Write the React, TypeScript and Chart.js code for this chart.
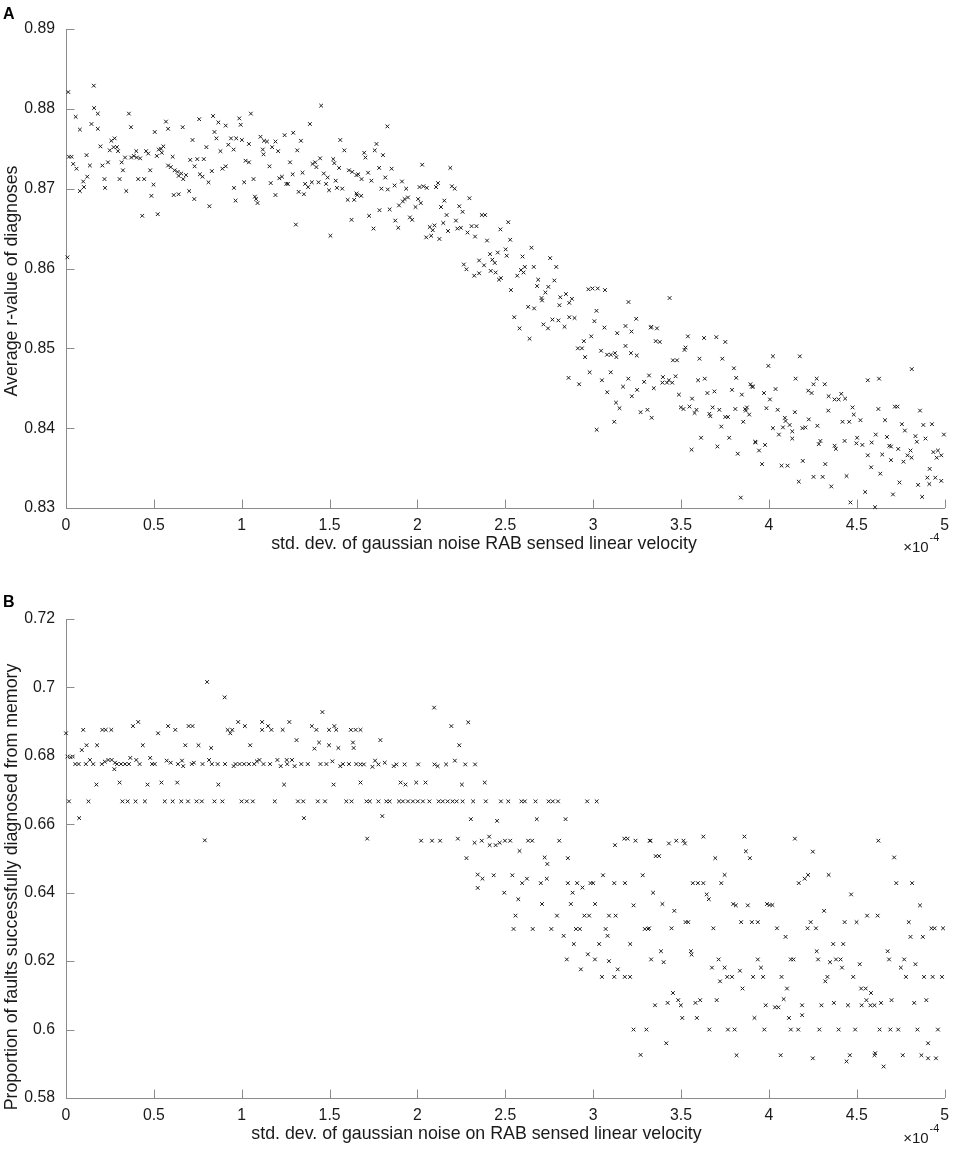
import React, { useEffect, useRef } from 'react';
import { Chart, registerables } from 'chart.js';

Chart.register(...registerables);

const FONT = '"Liberation Sans", Arial, Helvetica, sans-serif';
const AXIS_COLOR = '#8c8c8c';
const TEXT_COLOR = '#1a1a1a';

// x values in units of 1e-4 (axis shows x10^-4)
const xTicks = [0, 0.5, 1, 1.5, 2, 2.5, 3, 3.5, 4, 4.5, 5];
const yTicksA = [0.83, 0.84, 0.85, 0.86, 0.87, 0.88, 0.89];
const yTicksB = [0.58, 0.6, 0.62, 0.64, 0.66, 0.68, 0.7, 0.72];

const xTitleA = 'std. dev. of gaussian noise RAB sensed linear velocity';
const yTitleA = 'Average r-value of diagnoses';
const xTitleB = 'std. dev. of gaussian noise on RAB sensed linear velocity';
const yTitleB = 'Proportion of faults successfully diagnosed from memory';

// Panel A: [x (1e-4), average r-value]
const pointsA: [number, number][] = [
  [0.013, 0.8821], [0.008, 0.8614], [0.017, 0.874], [0.032, 0.874], [0.041, 0.8731], [0.06, 0.8725], [0.055, 0.879], [0.079, 0.8774],
  [0.079, 0.8697], [0.098, 0.8709], [0.102, 0.8702], [0.117, 0.8742], [0.121, 0.8715], [0.136, 0.8729], [0.158, 0.8829], [0.16, 0.8801],
  [0.181, 0.8794], [0.145, 0.8781], [0.181, 0.8775], [0.196, 0.8753], [0.207, 0.8729], [0.219, 0.8712], [0.222, 0.8701], [0.239, 0.8733],
  [0.249, 0.8748], [0.258, 0.876], [0.277, 0.8763], [0.271, 0.8752], [0.29, 0.8752], [0.296, 0.8747], [0.305, 0.8712], [0.317, 0.8733],
  [0.324, 0.8723], [0.336, 0.8739], [0.343, 0.8697], [0.358, 0.8794], [0.37, 0.8777], [0.371, 0.8739], [0.386, 0.8741], [0.4, 0.8747],
  [0.403, 0.8739], [0.422, 0.8738], [0.411, 0.8712], [0.434, 0.8666], [0.445, 0.8712], [0.456, 0.8747], [0.468, 0.8744], [0.479, 0.8723],
  [0.486, 0.8691], [0.498, 0.8705], [0.505, 0.8771], [0.517, 0.8741], [0.522, 0.8668], [0.528, 0.8749], [0.541, 0.875], [0.554, 0.8753],
  [0.545, 0.8745], [0.569, 0.8784], [0.581, 0.8775], [0.581, 0.8729], [0.596, 0.8727], [0.607, 0.874], [0.613, 0.8692], [0.618, 0.8723],
  [0.635, 0.8721], [0.641, 0.8693], [0.641, 0.8716], [0.656, 0.8719], [0.667, 0.8712], [0.664, 0.8777], [0.683, 0.8717], [0.701, 0.8697],
  [0.707, 0.8736], [0.72, 0.8761], [0.73, 0.8687], [0.732, 0.8728], [0.747, 0.8737], [0.758, 0.8787], [0.762, 0.8718], [0.777, 0.8715],
  [0.784, 0.8737], [0.799, 0.8752], [0.811, 0.8708], [0.816, 0.8678], [0.83, 0.8722], [0.837, 0.8791], [0.845, 0.8771], [0.856, 0.8763],
  [0.867, 0.8783], [0.879, 0.8747], [0.89, 0.8725], [0.909, 0.8779], [0.909, 0.8728], [0.924, 0.8755], [0.939, 0.8763], [0.954, 0.8749],
  [0.956, 0.8701], [0.965, 0.8685], [0.969, 0.8763], [0.986, 0.8788], [0.994, 0.878], [1.001, 0.8761], [1.014, 0.8708], [1.022, 0.8735],
  [1.041, 0.8733], [1.041, 0.8756], [1.052, 0.8794], [1.067, 0.8712], [1.075, 0.869], [1.082, 0.8687], [1.09, 0.8682], [1.107, 0.8765],
  [1.12, 0.8749], [1.124, 0.8743], [1.127, 0.876], [1.144, 0.8759], [1.158, 0.8728], [1.165, 0.8707], [1.173, 0.8752], [1.192, 0.8759],
  [1.192, 0.8692], [1.207, 0.8747], [1.214, 0.8713], [1.229, 0.8715], [1.244, 0.8767], [1.254, 0.8706], [1.263, 0.8706], [1.275, 0.8733],
  [1.29, 0.8718], [1.293, 0.877], [1.308, 0.8655], [1.316, 0.8748], [1.324, 0.8696], [1.337, 0.876], [1.346, 0.872], [1.354, 0.8693],
  [1.361, 0.8706], [1.378, 0.8702], [1.388, 0.8781], [1.399, 0.8708], [1.403, 0.8731], [1.418, 0.8733], [1.425, 0.8727], [1.437, 0.8708],
  [1.446, 0.8738], [1.452, 0.8804], [1.467, 0.8719], [1.48, 0.8706], [1.489, 0.8714], [1.497, 0.8698], [1.505, 0.8641], [1.521, 0.8737],
  [1.527, 0.8732], [1.535, 0.871], [1.542, 0.8701], [1.554, 0.8726], [1.561, 0.8761], [1.572, 0.87], [1.584, 0.8748], [1.603, 0.8686],
  [1.61, 0.8723], [1.625, 0.8661], [1.629, 0.8721], [1.64, 0.8686], [1.653, 0.8694], [1.653, 0.8717],
  [1.829, 0.8778], [1.767, 0.8756], [1.757, 0.8748], [1.697, 0.8745], [1.704, 0.8739], [1.804, 0.8742], [1.719, 0.872], [1.663, 0.8718],
  [1.682, 0.8712], [1.738, 0.871], [1.782, 0.8726], [1.853, 0.8725], [1.817, 0.8714], [1.657, 0.8692], [1.68, 0.8691], [1.795, 0.87],
  [1.831, 0.8699], [1.87, 0.8704], [1.912, 0.8709], [1.936, 0.87], [2.027, 0.873], [2.012, 0.8702], [2.034, 0.8703], [2.053, 0.8701],
  [2.106, 0.8702], [2.117, 0.8707], [2.187, 0.8726], [2.196, 0.8703], [2.212, 0.87], [2.296, 0.8688], [1.895, 0.8679], [1.917, 0.8684],
  [1.927, 0.8687], [1.946, 0.8689], [2.004, 0.8687], [1.989, 0.8677], [2.019, 0.8682], [2.153, 0.8685], [2.134, 0.8677], [2.238, 0.8678],
  [2.257, 0.8671], [2.166, 0.8667], [1.784, 0.8673], [1.842, 0.8674], [1.725, 0.8666], [1.75, 0.865], [1.874, 0.866], [1.891, 0.8651],
  [1.957, 0.8664], [1.97, 0.8661], [2.07, 0.8652], [2.097, 0.8654], [2.087, 0.8648], [2.05, 0.8639], [2.078, 0.8641], [2.125, 0.8637],
  [2.147, 0.8657], [2.174, 0.8647], [2.219, 0.866], [2.227, 0.865], [2.247, 0.8651], [2.285, 0.8645], [2.308, 0.8653], [2.336, 0.8653],
  [2.328, 0.864], [2.366, 0.8667], [2.385, 0.8667], [2.396, 0.8635], [2.472, 0.8649], [2.517, 0.8658], [2.528, 0.8636], [2.413, 0.8618],
  [2.457, 0.862], [2.502, 0.8624], [2.508, 0.8616], [2.649, 0.8626], [2.755, 0.8613], [2.598, 0.8615], [2.264, 0.8605], [2.279, 0.8599],
  [2.351, 0.861], [2.379, 0.8604], [2.426, 0.8611], [2.44, 0.8607], [2.417, 0.8597], [2.445, 0.8595], [2.475, 0.8588], [2.464, 0.8586],
  [2.323, 0.8591], [2.351, 0.8594], [2.568, 0.8591], [2.589, 0.8598], [2.604, 0.8595], [2.611, 0.8602], [2.662, 0.8602], [2.79, 0.8602],
  [2.532, 0.8573], [2.687, 0.8586], [2.681, 0.8578], [2.728, 0.857], [2.745, 0.8577], [2.779, 0.8585], [2.706, 0.8563], [2.709, 0.856],
  [2.813, 0.8564], [2.845, 0.8568], [2.879, 0.8562], [2.864, 0.8557], [2.808, 0.8554], [2.973, 0.8574], [2.996, 0.8575], [3.026, 0.8575],
  [3.067, 0.8573], [3.201, 0.8558], [2.63, 0.8552], [2.664, 0.855], [2.551, 0.8539], [2.581, 0.8525], [2.638, 0.8512], [2.717, 0.853],
  [2.743, 0.8525], [2.768, 0.8536], [2.802, 0.8535], [2.837, 0.8527], [2.864, 0.8539], [2.894, 0.8538], [3.019, 0.8547], [3.007, 0.8534],
  [3.064, 0.8526], [3.137, 0.8519], [3.184, 0.8528], [3.218, 0.8521], [3.245, 0.8537], [3.328, 0.8526], [2.947, 0.8509], [2.989, 0.8515],
  [2.913, 0.85], [2.936, 0.85], [2.954, 0.8489], [3.045, 0.8497], [3.079, 0.8492], [3.101, 0.8492], [3.124, 0.8494], [3.132, 0.8489],
  [3.184, 0.8503], [3.215, 0.8494], [3.248, 0.8491],
  [2.86, 0.8463], [2.92, 0.8455], [2.98, 0.847], [3.02, 0.8398], [3.05, 0.846], [3.08, 0.8445], [3.1, 0.847], [3.12, 0.8408],
  [3.13, 0.8432], [3.15, 0.8425], [3.17, 0.8452], [3.2, 0.8462], [3.22, 0.844], [3.25, 0.8448], [3.27, 0.842], [3.29, 0.8458],
  [3.435, 0.8563], [3.331, 0.8527], [3.363, 0.8525], [3.356, 0.8509], [3.379, 0.8508], [3.454, 0.8485], [3.477, 0.8485], [3.318, 0.8466],
  [3.397, 0.8464], [3.394, 0.8457], [3.42, 0.8457], [3.431, 0.846], [3.45, 0.8457], [3.469, 0.8465], [3.345, 0.845], [3.309, 0.8423],
  [3.333, 0.8413], [3.539, 0.8515], [3.526, 0.8501], [3.52, 0.8498], [3.631, 0.8513], [3.701, 0.8514], [3.752, 0.8508], [3.605, 0.8487],
  [3.735, 0.8487], [3.801, 0.8475], [3.814, 0.8463], [3.597, 0.846], [3.635, 0.8462], [3.488, 0.8442], [3.563, 0.8437], [3.65, 0.8444],
  [3.69, 0.8446], [3.499, 0.8426], [3.514, 0.8424], [3.548, 0.8427], [3.588, 0.8423], [3.577, 0.8419], [3.661, 0.8418], [3.667, 0.8415],
  [3.68, 0.8426], [3.718, 0.8423], [3.752, 0.8414], [3.767, 0.8414], [3.79, 0.8448], [3.809, 0.8424], [3.846, 0.8442], [3.865, 0.8424],
  [3.875, 0.8426], [3.869, 0.8422], [3.888, 0.8417], [3.854, 0.8408], [3.729, 0.8402], [3.614, 0.8388], [3.774, 0.8388], [3.707, 0.8377],
  [3.56, 0.8373], [3.823, 0.8368], [3.903, 0.8452], [3.91, 0.8452], [3.895, 0.8455], [3.922, 0.8383], [3.925, 0.8382], [3.944, 0.8372],
  [3.972, 0.8444], [3.986, 0.8425], [4.006, 0.8436], [3.978, 0.8379], [3.961, 0.8355], [3.84, 0.8313], [3.997, 0.8478], [4.023, 0.849],
  [4.038, 0.8449], [4.05, 0.8423], [4.023, 0.84], [4.057, 0.8392], [4.08, 0.8401], [4.095, 0.8409], [4.091, 0.8413], [4.118, 0.8404],
  [4.133, 0.8396], [4.133, 0.8387], [4.148, 0.842], [4.152, 0.8462], [4.176, 0.849], [4.191, 0.84], [4.208, 0.8401], [4.227, 0.8411],
  [4.224, 0.8447], [4.243, 0.8444], [4.254, 0.8455], [4.272, 0.8462], [4.318, 0.8455], [4.276, 0.8403], [4.284, 0.838], [4.293, 0.8384],
  [4.338, 0.8422], [4.34, 0.844], [4.374, 0.8436], [4.397, 0.8436], [4.412, 0.8443], [4.434, 0.8437], [4.476, 0.8426], [4.483, 0.8417],
  [4.419, 0.8408], [4.457, 0.8408], [4.521, 0.841], [4.431, 0.8384], [4.374, 0.8378], [4.381, 0.8374], [4.502, 0.8388], [4.498, 0.8381],
  [4.532, 0.8379], [4.563, 0.846], [4.627, 0.8462], [4.623, 0.8424], [4.661, 0.841], [4.717, 0.8427], [4.732, 0.8427], [4.757, 0.8405],
  [4.774, 0.8397], [4.672, 0.8389], [4.685, 0.8378], [4.695, 0.8377], [4.736, 0.8374], [4.695, 0.836], [4.585, 0.8382], [4.608, 0.8392],
  [4.563, 0.8366], [4.582, 0.8351], [4.634, 0.8343], [4.645, 0.8367], [4.806, 0.8372], [4.812, 0.8363], [4.789, 0.8366], [4.766, 0.8358],
  [4.834, 0.839], [4.842, 0.8383], [4.891, 0.8387], [4.813, 0.8474], [4.86, 0.8422], [4.879, 0.8404], [4.928, 0.8405], [4.996, 0.8392],
  [4.936, 0.837], [4.962, 0.8372], [4.955, 0.8363], [4.981, 0.8366], [4.915, 0.8349], [4.902, 0.8338], [4.947, 0.8338], [4.981, 0.8334],
  [4.913, 0.833], [4.849, 0.8329], [4.872, 0.8314], [4.743, 0.8332], [4.706, 0.8317], [4.548, 0.832], [4.464, 0.8307], [4.604, 0.8301],
  [4.321, 0.8355], [4.306, 0.8339], [4.254, 0.8339], [4.355, 0.8327], [4.442, 0.834], [4.17, 0.8333], [4.193, 0.8359], [4.072, 0.8353],
  [4.106, 0.8353],
];

// Panel B: [x (1e-4), proportion diagnosed from memory]
const pointsB: [number, number][] = [
  [0.0, 0.6866], [0.008, 0.6798], [0.026, 0.6796], [0.038, 0.6798], [0.017, 0.6667], [0.053, 0.6776], [0.072, 0.6776], [0.075, 0.6618],
  [0.09, 0.6817], [0.098, 0.6876], [0.117, 0.6831], [0.113, 0.6776], [0.136, 0.6788], [0.128, 0.6667], [0.155, 0.6776], [0.173, 0.6716],
  [0.177, 0.6831], [0.207, 0.6876], [0.226, 0.6876], [0.258, 0.6876], [0.204, 0.6776], [0.221, 0.6783], [0.241, 0.6788], [0.26, 0.6788],
  [0.275, 0.6761], [0.279, 0.678], [0.29, 0.6776], [0.305, 0.6722], [0.321, 0.6667], [0.313, 0.6776], [0.336, 0.6776], [0.351, 0.6667],
  [0.358, 0.6776], [0.366, 0.6794], [0.381, 0.6887], [0.396, 0.6667], [0.411, 0.6899], [0.4, 0.6788], [0.419, 0.6776], [0.437, 0.6831],
  [0.449, 0.6667], [0.464, 0.6716], [0.479, 0.6794], [0.49, 0.6776], [0.505, 0.6776], [0.524, 0.6866], [0.543, 0.6722], [0.562, 0.6667],
  [0.573, 0.6786], [0.581, 0.6887], [0.596, 0.678], [0.607, 0.6667], [0.622, 0.6876], [0.633, 0.6722], [0.637, 0.6776], [0.656, 0.6667],
  [0.66, 0.6786], [0.667, 0.677], [0.679, 0.6831], [0.698, 0.6887], [0.694, 0.6667], [0.716, 0.6776], [0.72, 0.6887], [0.728, 0.678],
  [0.743, 0.6667], [0.754, 0.6831], [0.773, 0.6667], [0.777, 0.6776], [0.803, 0.7016], [0.814, 0.6788], [0.826, 0.6823], [0.83, 0.6776],
  [0.845, 0.6667], [0.863, 0.6776], [0.867, 0.6716], [0.89, 0.6667], [0.905, 0.6776], [0.903, 0.6971], [0.92, 0.6876], [0.935, 0.6866],
  [0.946, 0.6876], [0.954, 0.677], [0.965, 0.6776], [0.98, 0.6899], [0.988, 0.6776], [0.999, 0.6667], [1.014, 0.6776], [1.018, 0.6887],
  [1.029, 0.6667], [1.041, 0.6776], [1.048, 0.6831], [1.063, 0.6667], [1.071, 0.6776], [1.086, 0.6784], [1.101, 0.6788], [1.116, 0.6899],
  [1.116, 0.6876], [1.124, 0.6776], [1.15, 0.6887], [1.161, 0.6776], [1.169, 0.6876], [1.188, 0.6667], [1.203, 0.6788], [1.222, 0.677],
  [1.233, 0.6876], [1.241, 0.6716], [1.256, 0.6788], [1.259, 0.6776], [1.271, 0.6899], [1.286, 0.6788], [1.301, 0.677], [1.312, 0.6846],
  [1.32, 0.6667], [1.339, 0.6776], [1.35, 0.6667], [1.354, 0.6618], [1.376, 0.6776], [1.399, 0.6887], [1.414, 0.6821], [1.425, 0.6876],
  [1.433, 0.6667], [1.44, 0.6839], [1.448, 0.6776], [1.459, 0.6928], [1.474, 0.6667], [1.482, 0.6776], [1.497, 0.6831], [1.497, 0.6876],
  [1.516, 0.6784], [1.523, 0.6716], [1.527, 0.6887], [1.538, 0.6876], [1.55, 0.6823], [1.561, 0.677], [1.576, 0.6776], [1.595, 0.6667],
  [1.61, 0.6776], [1.621, 0.6876], [1.625, 0.6667], [1.633, 0.6839], [1.637, 0.6823], [1.652, 0.6776], [1.648, 0.6876], [0.79, 0.6553],
  [2.095, 0.6941], [2.193, 0.6887], [2.289, 0.6898], [2.238, 0.6831], [1.789, 0.6846], [1.676, 0.6876], [1.676, 0.6775], [1.695, 0.6775],
  [1.744, 0.6768], [1.759, 0.6786], [1.778, 0.6775], [1.814, 0.678], [1.865, 0.677], [1.88, 0.6775], [1.927, 0.6775], [2.004, 0.6775],
  [2.097, 0.6775], [2.115, 0.677], [2.163, 0.6775], [2.213, 0.6786], [2.272, 0.6775], [2.328, 0.6775], [1.676, 0.6722], [1.904, 0.6722],
  [1.932, 0.6716], [1.993, 0.6722], [2.046, 0.6722], [2.253, 0.6716], [2.383, 0.6722],
  [1.71, 0.6667], [1.729, 0.6667], [1.778, 0.6667], [1.823, 0.6667], [1.842, 0.6667], [1.895, 0.6667], [1.917, 0.6667], [1.946, 0.6667],
  [1.974, 0.6667], [2.002, 0.6667], [2.031, 0.6667], [2.068, 0.6667], [2.121, 0.6667], [2.144, 0.6667], [2.172, 0.6667], [2.2, 0.6667],
  [2.223, 0.6667], [2.257, 0.6667], [2.317, 0.6667], [2.389, 0.6667], [2.475, 0.6667], [2.517, 0.6667], [2.592, 0.6667], [2.611, 0.6667],
  [2.672, 0.6667], [2.747, 0.6667], [2.77, 0.6667], [2.8, 0.6667], [2.966, 0.6667], [3.02, 0.6667],
  [1.8, 0.6624], [2.304, 0.6615], [2.453, 0.661], [2.679, 0.6615], [2.843, 0.6615], [1.714, 0.6558], [2.021, 0.6552], [2.083, 0.6552],
  [2.129, 0.6552], [2.23, 0.6558], [2.325, 0.6546], [2.366, 0.6552], [2.408, 0.6564], [2.411, 0.6539], [2.445, 0.6539], [2.468, 0.6546],
  [2.498, 0.6552], [2.528, 0.6552], [2.63, 0.6552], [2.653, 0.6552], [2.807, 0.6552], [2.581, 0.6522], [3.124, 0.6539], [3.177, 0.6558],
  [3.196, 0.6558], [3.241, 0.6552], [3.322, 0.6552], [2.279, 0.6501], [2.724, 0.6503], [2.739, 0.6484], [2.856, 0.6501], [2.343, 0.6453],
  [2.37, 0.6441], [2.434, 0.6451], [2.54, 0.6451], [2.596, 0.6428], [2.623, 0.6441], [2.702, 0.6428], [2.736, 0.6441], [2.856, 0.6428],
  [2.909, 0.6428], [2.939, 0.6415], [2.985, 0.6428], [3.0, 0.6428], [3.056, 0.6451], [3.12, 0.6428], [3.181, 0.6428], [3.282, 0.6451],
  [2.343, 0.6414], [2.494, 0.64], [2.883, 0.64], [2.574, 0.6381], [2.709, 0.6367], [2.873, 0.6367], [3.011, 0.6367], [3.23, 0.6363],
  [2.558, 0.6333], [2.794, 0.6333], [2.95, 0.6333], [2.977, 0.6333], [3.09, 0.6333], [3.128, 0.6333], [2.547, 0.6294], [2.656, 0.6294],
  [2.762, 0.6294], [2.902, 0.6294], [2.924, 0.6294], [3.071, 0.6294], [3.294, 0.6294], [3.312, 0.6294], [2.832, 0.6274], [3.082, 0.6274],
  [2.89, 0.625], [3.034, 0.625], [3.211, 0.625],
  [2.85, 0.6205], [2.93, 0.6176], [2.97, 0.622], [3.01, 0.6205], [3.05, 0.6154], [3.09, 0.62], [3.14, 0.6176], [3.18, 0.6154],
  [3.23, 0.6], [3.27, 0.5926], [3.21, 0.6154], [3.12, 0.6154],
  [3.326, 0.6552], [3.431, 0.6544], [3.473, 0.6552], [3.514, 0.6552], [3.522, 0.6544], [3.627, 0.6564], [3.861, 0.6564], [4.148, 0.6558],
  [4.623, 0.6552], [3.356, 0.6507], [3.375, 0.6507], [3.695, 0.6501], [3.869, 0.6521], [3.892, 0.6501], [4.25, 0.652], [4.713, 0.6503],
  [3.748, 0.6452], [3.729, 0.6428], [3.567, 0.6428], [3.596, 0.6428], [3.627, 0.6428], [3.341, 0.64], [3.646, 0.6395], [3.658, 0.6381],
  [3.394, 0.6367], [3.462, 0.6347], [3.526, 0.6314], [3.541, 0.6314], [3.318, 0.6296], [3.446, 0.6296], [3.684, 0.6296], [3.797, 0.6367],
  [3.812, 0.6363], [3.88, 0.6363], [3.989, 0.6367], [4.004, 0.6364], [4.02, 0.6364], [3.842, 0.6314], [3.903, 0.6314], [3.937, 0.6314],
  [4.046, 0.6296], [4.095, 0.6271], [4.17, 0.6428], [4.204, 0.6441], [4.223, 0.6452], [4.34, 0.6452], [4.468, 0.6395], [4.314, 0.6347],
  [4.238, 0.6314], [4.22, 0.6296], [4.268, 0.6296], [4.431, 0.6314], [4.499, 0.6314], [4.559, 0.6333], [4.619, 0.6333], [4.725, 0.6428],
  [4.815, 0.6428], [4.86, 0.6363], [4.796, 0.6314], [4.925, 0.6296], [4.943, 0.6296], [4.991, 0.6296], [4.806, 0.6271], [4.876, 0.6271],
  [3.386, 0.6229], [3.33, 0.6205], [3.401, 0.6197], [3.556, 0.6229], [3.56, 0.6219], [3.714, 0.6205], [3.676, 0.6181], [3.748, 0.6181],
  [3.835, 0.6172], [3.722, 0.6141], [3.763, 0.6154], [3.79, 0.6154], [3.91, 0.6154], [3.937, 0.6205], [3.955, 0.6181], [3.967, 0.6154],
  [4.072, 0.6154], [4.125, 0.6205], [4.14, 0.6205], [4.272, 0.6229], [4.28, 0.6205], [4.348, 0.6197], [4.382, 0.6205], [4.408, 0.6205],
  [4.416, 0.6181], [4.517, 0.6191], [4.366, 0.625], [4.423, 0.625], [4.333, 0.6154], [4.321, 0.6141], [4.48, 0.6154], [4.676, 0.6229],
  [4.684, 0.6205], [4.77, 0.6205], [4.751, 0.6181], [4.834, 0.6191], [4.78, 0.6154], [4.883, 0.6154], [4.932, 0.6154], [4.985, 0.6154],
  [3.85, 0.612], [4.103, 0.612], [4.525, 0.612], [4.551, 0.612], [4.581, 0.6107], [3.454, 0.6107], [3.352, 0.6071], [3.424, 0.6078],
  [3.484, 0.6086], [3.499, 0.6071], [3.582, 0.6078], [3.609, 0.6086], [3.703, 0.6086], [3.982, 0.6071], [4.035, 0.6065], [4.054, 0.6065],
  [4.084, 0.6089], [4.189, 0.6071], [4.189, 0.6042], [4.299, 0.6071], [4.37, 0.6078], [4.45, 0.6071], [4.528, 0.6071], [4.555, 0.6086],
  [4.578, 0.6071], [4.601, 0.6071], [4.638, 0.6078], [4.698, 0.6086], [4.827, 0.6078], [4.896, 0.6086], [3.507, 0.6034], [3.59, 0.6034],
  [3.918, 0.6034], [4.114, 0.6034],
  [3.303, 0.6], [3.661, 0.6], [3.767, 0.6], [3.805, 0.6], [3.974, 0.6], [4.125, 0.6], [4.167, 0.6], [4.287, 0.6],
  [4.397, 0.6], [4.491, 0.6], [4.63, 0.6], [4.691, 0.6], [4.736, 0.6], [4.845, 0.6], [4.962, 0.6],
  [3.416, 0.596], [4.906, 0.596], [3.816, 0.5925], [4.067, 0.5925], [4.25, 0.5916], [4.461, 0.5925], [4.442, 0.5907], [4.601, 0.5925],
  [4.605, 0.5931], [4.762, 0.5925], [4.868, 0.5925], [4.906, 0.5916], [4.951, 0.5916], [4.653, 0.5892],
];

type PanelCfg = {
  points: [number, number][];
  yTicks: number[];
  xTitle: string;
  yTitle: string;
  letter: string;
  height: number;
  padTop: number;
  xAxisHeight: number;
  letterY: number;
  xTitleX: number;
  xTitleY: number;
  yTitleY: number;
  expY: number;
};

const fmt = (v: number) => String(Number(v.toFixed(3)));

const decorPlugin = {
  id: 'decor',
  afterDraw(chart: any, _args: any, opts: any) {
    const { ctx, chartArea, scales } = chart;
    const xs = scales.x;
    const ys = scales.y;
    const TL = 8.5;
    ctx.save();
    ctx.strokeStyle = AXIS_COLOR;
    ctx.lineWidth = 1;
    ctx.beginPath();
    xs.ticks.forEach((t: any) => {
      const px = Math.round(xs.getPixelForValue(t.value)) + 0.5;
      ctx.moveTo(px, chartArea.bottom);
      ctx.lineTo(px, chartArea.bottom - TL);
    });
    ys.ticks.forEach((t: any) => {
      const py = Math.round(ys.getPixelForValue(t.value)) + 0.5;
      ctx.moveTo(chartArea.left, py);
      ctx.lineTo(chartArea.left + TL, py);
    });
    ctx.stroke();

    ctx.textBaseline = 'alphabetic';
    // panel letter
    ctx.font = `bold 16px ${FONT}`;
    ctx.textAlign = 'left';
    ctx.fillStyle = '#000';
    ctx.fillText(opts.letter, 3, opts.letterY);
    ctx.fillStyle = TEXT_COLOR;
    // x title
    ctx.font = `17.8px ${FONT}`;
    ctx.textAlign = 'center';
    ctx.fillText(opts.xTitle, opts.xTitleX, opts.xTitleY);
    // y title
    ctx.save();
    ctx.translate(16.5, opts.yTitleY);
    ctx.rotate(-Math.PI / 2);
    ctx.fillText(opts.yTitle, 0, 0);
    ctx.restore();
    // exponent
    ctx.font = `15px ${FONT}`;
    ctx.textAlign = 'right';
    ctx.fillText('\u00d710', chartArea.right - 16, opts.expY);
    ctx.font = `11px ${FONT}`;
    ctx.textAlign = 'left';
    ctx.fillText('-4', chartArea.right - 15, opts.expY - 11);
    ctx.restore();
  },
};

function Panel({ cfg }: { cfg: PanelCfg }) {
  const ref = useRef<HTMLCanvasElement | null>(null);
  useEffect(() => {
    if (!ref.current) return;
    const chart = new Chart(ref.current, {
      type: 'scatter',
      data: {
        datasets: [
          {
            data: cfg.points.map(([x, y]) => ({ x, y })),
            pointStyle: 'crossRot',
            pointRadius: 2.6,
            pointBorderWidth: 1,
            borderColor: '#1a1a1a',
            backgroundColor: '#1a1a1a',
            clip: false as any,
          },
        ],
      },
      options: {
        animation: false,
        responsive: false,
        devicePixelRatio: 1,
        events: [],
        layout: { padding: { top: cfg.padTop, right: 7, left: 0, bottom: 0 } },
        plugins: {
          legend: { display: false },
          tooltip: { enabled: false },
          decor: {
            letter: cfg.letter,
            letterY: cfg.letterY,
            xTitle: cfg.xTitle,
            yTitle: cfg.yTitle,
            xTitleX: cfg.xTitleX,
            xTitleY: cfg.xTitleY,
            yTitleY: cfg.yTitleY,
            expY: cfg.expY,
          },
        } as any,
        scales: {
          x: {
            type: 'linear',
            min: 0,
            max: 5,
            afterBuildTicks: (s: any) => {
              s.ticks = xTicks.map((v) => ({ value: v }));
            },
            afterFit: (s: any) => {
              s.height = cfg.xAxisHeight;
            },
            grid: { display: false, drawTicks: false },
            border: { display: true, color: AXIS_COLOR, width: 1 },
            ticks: {
              padding: 8,
              color: TEXT_COLOR,
              font: { family: FONT, size: 15.8 },
              maxRotation: 0,
              autoSkip: false,
              callback: (v: any) => fmt(Number(v)),
            },
          },
          y: {
            type: 'linear',
            min: cfg.yTicks[0],
            max: cfg.yTicks[cfg.yTicks.length - 1],
            afterBuildTicks: (s: any) => {
              s.ticks = cfg.yTicks.map((v) => ({ value: v }));
            },
            afterFit: (s: any) => {
              s.width = 66;
            },
            grid: { display: false, drawTicks: false },
            border: { display: true, color: AXIS_COLOR, width: 1 },
            ticks: {
              padding: 11,
              color: TEXT_COLOR,
              font: { family: FONT, size: 15.8 },
              autoSkip: false,
              callback: (v: any) => fmt(Number(v)),
            },
          },
        },
      },
      plugins: [decorPlugin as any],
    });
    return () => chart.destroy();
  }, [cfg]);
  return <canvas ref={ref} width={957} height={cfg.height} style={{ display: 'block', width: 957, height: cfg.height }} />;
}

const cfgA: PanelCfg = {
  points: pointsA,
  yTicks: yTicksA,
  xTitle: xTitleA,
  yTitle: yTitleA,
  letter: 'A',
  height: 575,
  padTop: 29,
  xAxisHeight: 67,
  letterY: 18.5,
  xTitleX: 484,
  xTitleY: 549,
  yTitleY: 281,
  expY: 552,
};

const cfgB: PanelCfg = {
  points: pointsB,
  yTicks: yTicksB,
  xTitle: xTitleB,
  yTitle: yTitleB,
  letter: 'B',
  height: 574,
  padTop: 44,
  xAxisHeight: 51,
  letterY: 31.5,
  xTitleX: 476.5,
  xTitleY: 564,
  yTitleY: 312,
  expY: 568,
};

export default function App() {
  return (
    <div style={{ position: 'absolute', left: 0, top: 0, width: 957, height: 1149, background: '#fff' }}>
      <Panel cfg={cfgA} />
      <Panel cfg={cfgB} />
    </div>
  );
}
